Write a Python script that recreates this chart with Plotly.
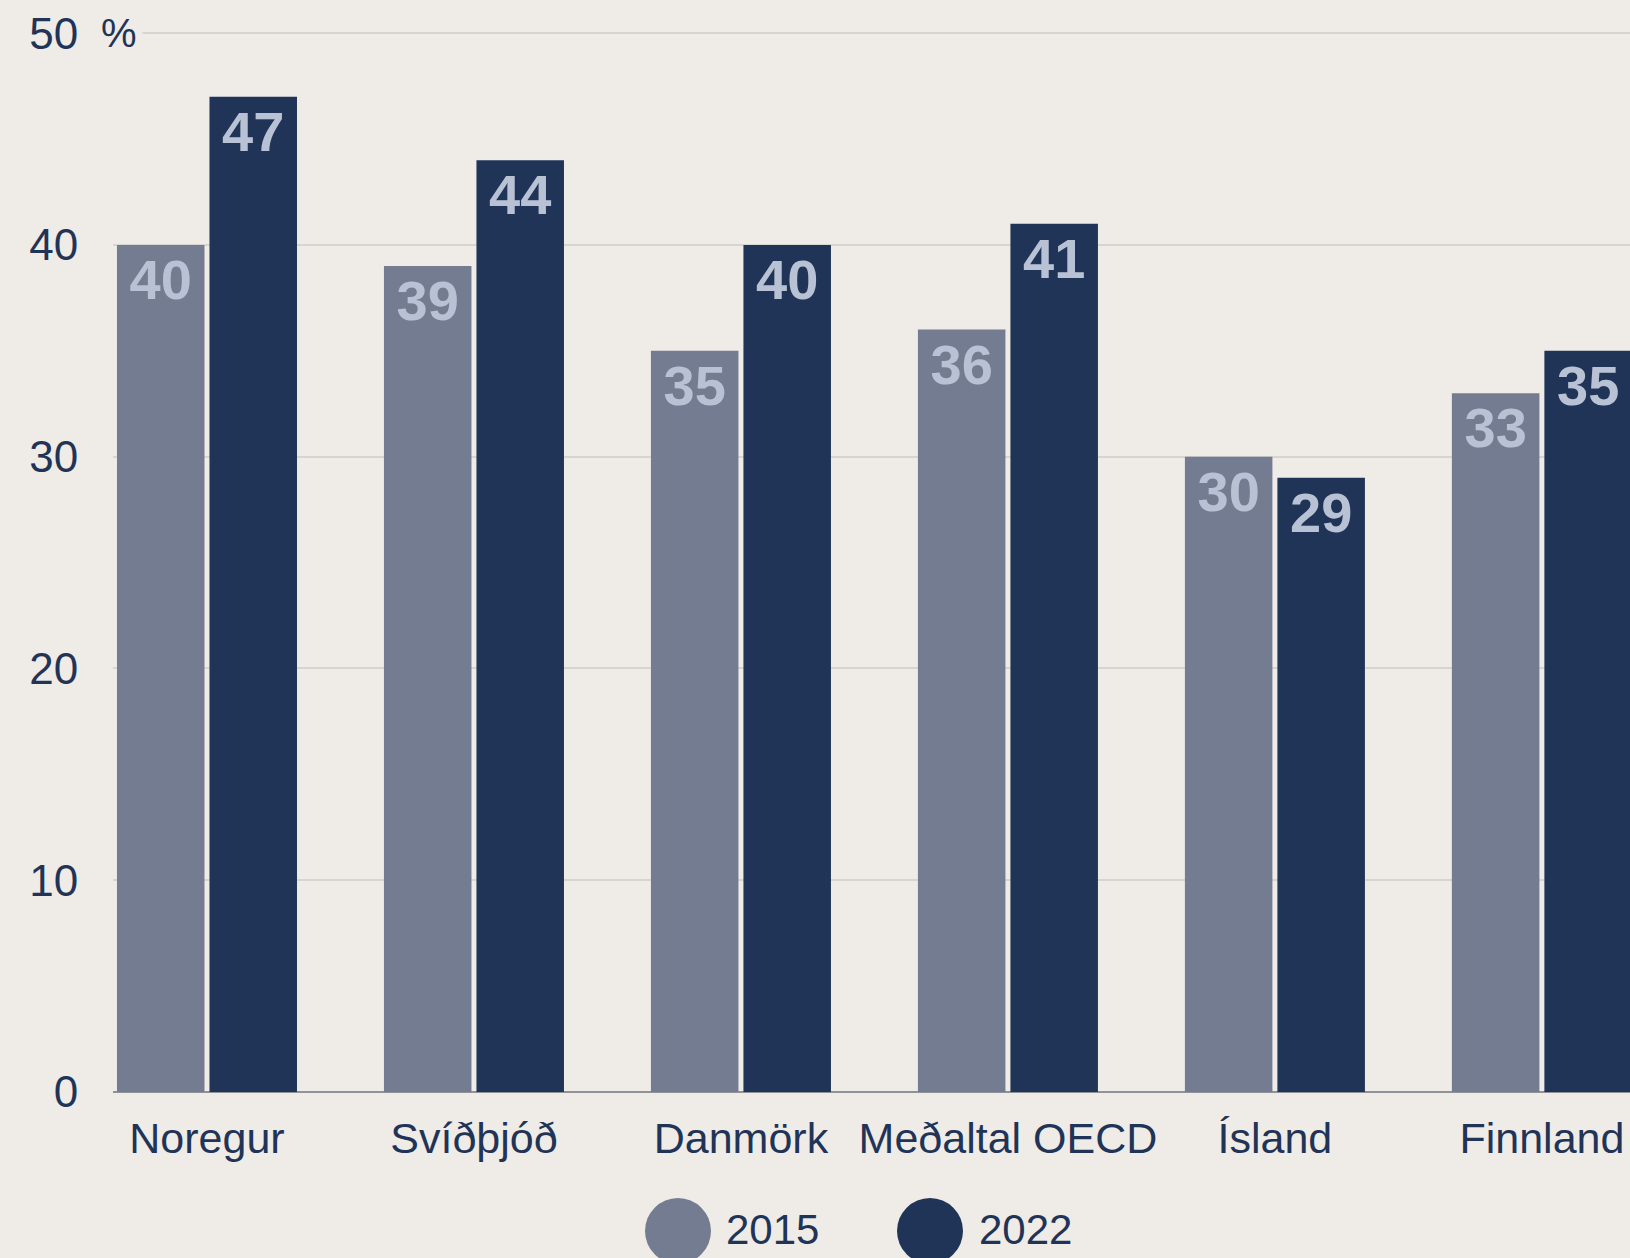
import plotly.graph_objects as go

categories = ["Noregur", "Svíðþjóð", "Danmörk", "Meðaltal OECD", "Ísland", "Finnland"]
values_2015 = [40, 39, 35, 36, 30, 33]
values_2022 = [47, 44, 40, 41, 29, 35]
series_names = ["2015", "2022"]
y_tick_vals = [0, 10, 20, 30, 40, 50]
y_tick_text = ["0", "10", "20", "30", "40", "50"]

BG = "#efebe7"
C2015 = "#737c91"
C2022 = "#1f3457"
TXT = "#1f3457"
LBL = "#b9c2d4"
FONT = "Liberation Sans, Arial, sans-serif"

W, H = 1630, 1258
L, R, T, B = 113, 0, 31, 166
PW, PH = W - L - R, H - T - B

def px_x(px):
    return (px - L) / PW

def px_y(py):
    return (H - B - py) / PH

fig = go.Figure()
for name, vals, col in [(series_names[0], values_2015, C2015), (series_names[1], values_2022, C2022)]:
    fig.add_trace(go.Bar(
        x=categories, y=vals, name=name,
        marker=dict(color=col, line=dict(width=0)),
        text=[str(v) for v in vals],
        textposition="inside",
        insidetextanchor="end",
        textangle=0,
        insidetextfont=dict(family=FONT, size=56, color=LBL, weight="bold"),
        showlegend=False,
        cliponaxis=True,
        hoverinfo="skip",
    ))

fig.update_layout(
    width=W, height=H, autosize=False,
    margin=dict(l=L, r=R, t=T, b=B, pad=0),
    paper_bgcolor=BG, plot_bgcolor=BG,
    barmode="group", bargap=0.307, bargroupgap=0.054,
    font=dict(family=FONT, size=43, color=TXT),
    xaxis=dict(
        type="category", range=[-0.352, 5.33],
        showgrid=False, showline=False, zeroline=False,
        ticks="outside", ticklen=8, tickcolor="rgba(0,0,0,0)",
        tickfont=dict(family=FONT, size=43, color=TXT),
    ),
    yaxis=dict(
        range=[0, 50.1], tickvals=y_tick_vals, ticktext=y_tick_text,
        showgrid=True, gridcolor="#d8d4cf", gridwidth=2,
        zeroline=True, zerolinecolor="#8f9298", zerolinewidth=2,
        showline=False,
        ticks="outside", ticklen=25, tickcolor="rgba(0,0,0,0)",
        tickfont=dict(family=FONT, size=44, color=TXT),
    ),
)

# "%" suffix on the top tick label
fig.add_annotation(
    xref="paper", yref="y", x=px_x(95), y=50,
    xanchor="left", yanchor="middle", text="%", showarrow=False,
    font=dict(family=FONT, size=40, color=TXT), bgcolor=BG, borderpad=5,
)

# legend drawn as circles + labels
legend_items = [(series_names[0], C2015, 678, 724), (series_names[1], C2022, 930, 977)]
for name, col, cx, tx in legend_items:
    r = 33
    fig.add_shape(
        type="circle", xref="paper", yref="paper",
        x0=px_x(cx - r), x1=px_x(cx + r), y0=px_y(1231 + r), y1=px_y(1231 - r),
        fillcolor=col, line=dict(width=0), layer="above",
    )
    fig.add_annotation(
        xref="paper", yref="paper", x=px_x(tx), y=px_y(1229),
        xanchor="left", yanchor="middle", text=name, showarrow=False,
        font=dict(family=FONT, size=42, color=TXT),
    )

fig.write_html(
    "out.html",
    config={"displayModeBar": False, "staticPlot": True},
    post_script="document.body.style.margin='0';document.body.style.padding='0';",
)
